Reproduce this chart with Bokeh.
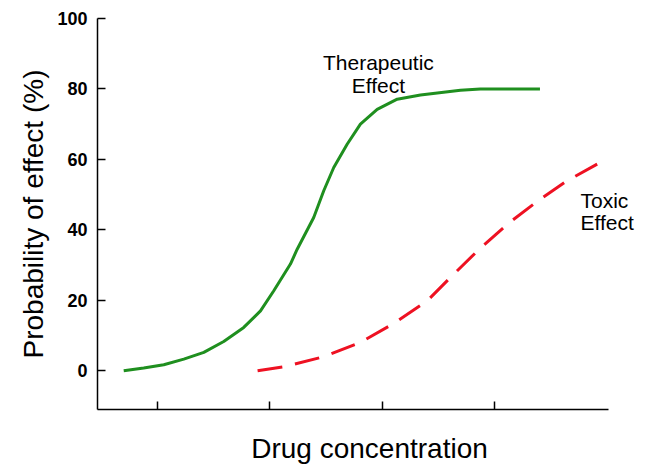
from bokeh.plotting import figure
from bokeh.models import Range1d, FixedTicker, Label
from bokeh.embed import file_html
from bokeh.resources import INLINE

# Data (concentration in arbitrary units, probability in %)
ther_conc = [0.700, 0.878, 1.056, 1.234, 1.412, 1.589, 1.767, 1.916, 2.034, 2.182, 2.242,
             2.389, 2.478, 2.567, 2.686, 2.804, 2.953, 3.131, 3.338, 3.693, 3.870, 4.400]
ther_prob = [0.0, 0.8, 1.7, 3.3, 5.2, 8.3, 12.3, 17.0, 22.7, 30.3, 34.5,
             43.5, 51.1, 57.7, 64.3, 70.0, 74.2, 77.1, 78.3, 79.6, 80.0, 80.0]

tox_conc = [1.89, 2.12, 2.48, 2.80, 3.10, 3.40, 3.62, 3.86, 4.11, 4.38, 4.64, 4.95]
tox_prob = [0.0, 1.1, 4.0, 8.0, 13.4, 19.9, 27.0, 34.5, 41.6, 48.2, 53.9, 59.4]

y_ticks = [0, 20, 40, 60, 80, 100]
x_ticks = [1, 2, 3, 4]

FONT = "Liberation Sans"

p = figure(frame_width=544, frame_height=391,
           min_border_left=97, min_border_right=0, min_border_top=18, min_border_bottom=55,
           x_range=Range1d(0.467, 0.467 + 544 / 112.5), y_range=Range1d(-11, 100),
           output_backend="svg", toolbar_location=None)

p.outline_line_color = None
p.xgrid.visible = False
p.ygrid.visible = False
p.background_fill_color = "white"

p.line(ther_conc, ther_prob, line_color="#1f8f1f", line_width=3)
p.line(tox_conc, tox_prob, line_color="#ee1122", line_width=3, line_dash="25 13")

# Y axis
ya = p.yaxis[0]
ya.ticker = FixedTicker(ticks=y_ticks)
ya.minor_tick_line_color = None
ya.major_tick_in = 8
ya.major_tick_out = 0
ya.major_tick_line_width = 1.5
ya.axis_line_width = 1.5
ya.axis_line_color = "black"
ya.major_tick_line_color = "black"
ya.major_label_text_font = FONT
ya.major_label_text_font_style = "bold"
ya.major_label_text_font_size = "18px"
ya.major_label_text_color = "black"
ya.major_label_standoff = 10
ya.axis_label = "Probability of effect (%)"
ya.axis_label_text_font = FONT
ya.axis_label_text_font_style = "normal"
ya.axis_label_text_font_size = "28px"
ya.axis_label_text_color = "black"
ya.axis_label_standoff = 5

# X axis (line stops at the right end of the original axis)
xa = p.xaxis[0]
xa.bounds = (0.467, 5.01)
xa.ticker = FixedTicker(ticks=x_ticks)
xa.minor_tick_line_color = None
xa.major_tick_in = 8
xa.major_tick_out = 0
xa.major_tick_line_width = 1.5
xa.axis_line_width = 1.5
xa.axis_line_color = "black"
xa.major_tick_line_color = "black"
xa.major_label_text_font_size = "0px"
xa.major_label_text_color = None
xa.major_label_standoff = 0
xa.axis_label = "Drug concentration"
xa.axis_label_text_font = FONT
xa.axis_label_text_font_style = "normal"
xa.axis_label_text_font_size = "28px"
xa.axis_label_text_color = "black"
xa.axis_label_standoff = 23

# Annotations
def add_label(x, y, text, align):
    p.add_layout(Label(x=x, y=y, text=text, text_font=FONT, text_font_size="21px",
                       text_color="black", text_align=align, text_baseline="alphabetic"))

add_label(2.964, 87.4, "Therapeutic", "center")
add_label(2.964, 81.1, "Effect", "center")
add_label(4.76, 48.2, "Toxic", "left")
add_label(4.76, 42.1, "Effect", "left")

open("out.html", "w").write(file_html(p, INLINE))
